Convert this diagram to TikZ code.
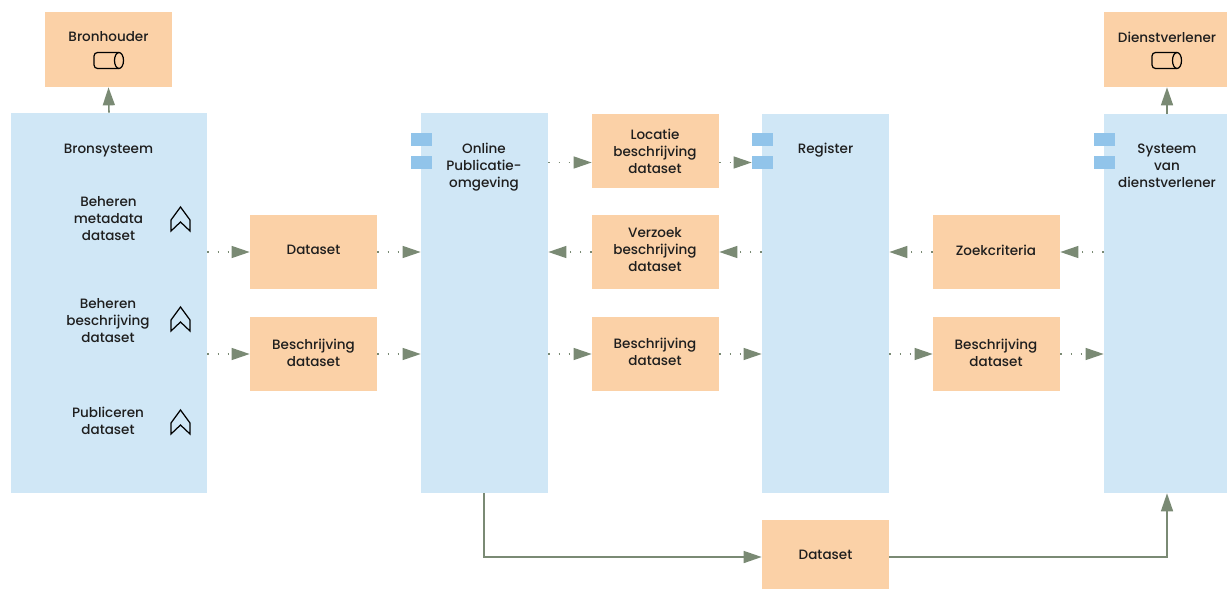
\documentclass[tikz,border=0pt]{standalone}
\usepackage{fontspec}
\setmainfont{Poppins Medium}
\usetikzlibrary{arrows.meta, positioning}
\definecolor{artefact}{HTML}{FBD1A7}
\definecolor{systeem}{HTML}{D0E7F6}
\definecolor{poort}{HTML}{91C4EA}
\definecolor{pijl}{HTML}{7A8A74}
\definecolor{tekst}{HTML}{1E1E1E}
\begin{document}
\begin{tikzpicture}[x=0.02cm, y=-0.02cm,
	artefactbox/.style={fill=artefact, minimum width=2.54cm, minimum height=1.48cm, inner sep=0pt},
	systeembox/.style={fill=systeem, minimum width=2.54cm, minimum height=7.58cm, inner sep=0pt},
	poortbox/.style={fill=poort, minimum width=0.42cm, minimum height=0.26cm, inner sep=0pt},
	tekstlabel/.style={font=\fontsize{7.7pt}{9.7pt}\selectfont, text=tekst, align=center, inner sep=0pt},
	flow/.style={draw=pijl, line width=0.7pt, dash pattern=on 0.8pt off 5pt, -{Triangle[length=0.36cm, width=0.24cm, fill=pijl]}},
	triggering/.style={draw=pijl, line width=0.9pt, -{Triangle[length=0.36cm, width=0.24cm, fill=pijl]}},
	icoon/.style={draw=black, line width=0.7pt}]
	\useasboundingbox (0,0) rectangle (1227,589);
	
	% actoren
	\node[artefactbox, minimum height=1.5cm] (bronhouder) at (108.5, 49.5) {};
	\node[artefactbox, minimum height=1.5cm, minimum width=2.46cm] (dienstverlener) at (1165.5, 49.5) {};
	\node[tekstlabel] (bronhoudertxt) at (108.5, 37) {Bronhouder};
	\node[tekstlabel] (dienstverlenertxt) at (1167, 37) {Dienstverlener};
	\draw[icoon, rounded corners=2pt] (119,52.5) -- (94,52.5) -- (94,68.5) -- (119,68.5);
	\draw[icoon] (119,60.5) ellipse (4.5 and 8);
	\draw[icoon, rounded corners=2pt] (1177,52.5) -- (1152,52.5) -- (1152,68.5) -- (1177,68.5);
	\draw[icoon] (1177,60.5) ellipse (4.5 and 8);
	
	% systemen
	\node[systeembox, minimum width=3.92cm, minimum height=7.6cm] (bronsysteem) at (109, 303) {};
	\node[systeembox, minimum height=7.6cm] (online) at (484.5, 303) {};
	\node[systeembox] (register) at (825.5, 303.5) {};
	\node[systeembox, minimum width=2.46cm] (systeemdv) at (1165.5, 303.5) {};
	\node[poortbox] (onlinep1) at (421.5, 139.5) {};
	\node[poortbox] (onlinep2) at (421.5, 162.5) {};
	\node[poortbox] (registerp1) at (762.5, 139.5) {};
	\node[poortbox] (registerp2) at (762.5, 162.5) {};
	\node[poortbox] (systeemp1) at (1104.5, 139.5) {};
	\node[poortbox] (systeemp2) at (1104.5, 162.5) {};
	\node[tekstlabel] (bronsysteemtxt) at (108.5, 151) {Bronsysteem};
	\node[tekstlabel] (metadatatxt) at (108.5, 219) {Beheren\\metadata\\dataset};
	\node[tekstlabel] (beheertxt) at (108, 321) {Beheren\\beschrijving\\dataset};
	\node[tekstlabel] (publicerentxt) at (108, 420.5) {Publiceren\\dataset};
	\node[tekstlabel] (onlinetxt) at (484, 167) {Online\\Publicatie-\\omgeving};
	\node[tekstlabel] (registertxt) at (825.5, 150) {Register};
	\node[tekstlabel] (systeemtxt) at (1167, 166) {Systeem\\van\\dienstverlener};
	\draw[icoon] (171,220) -- (180.5,207) -- (190,220) -- (190,231) -- (180.5,222) -- (171,231) -- cycle;
	\draw[icoon] (171,320) -- (180.5,307) -- (190,320) -- (190,331) -- (180.5,322) -- (171,331) -- cycle;
	\draw[icoon] (171,423) -- (180.5,410) -- (190,423) -- (190,434) -- (180.5,425) -- (171,434) -- cycle;
	
	% objecten
	\node[artefactbox] (dataset) at (313.5, 252) {};
	\node[artefactbox] (beschrijving1) at (313.5, 354) {};
	\node[artefactbox] (locatie) at (655.5, 151) {};
	\node[artefactbox] (verzoek) at (655.5, 252) {};
	\node[artefactbox] (beschrijving2) at (655.5, 354) {};
	\node[artefactbox] (zoekcriteria) at (996.5, 252) {};
	\node[artefactbox] (beschrijving3) at (996.5, 354) {};
	\node[artefactbox, minimum height=1.38cm] (dataset2) at (825.5, 554.5) {};
	\node[tekstlabel] (datasettxt) at (313.5, 250) {Dataset};
	\node[tekstlabel] (beschrijving1txt) at (313.5, 352.5) {Beschrijving\\dataset};
	\node[tekstlabel] (locatietxt) at (655, 151.5) {Locatie\\beschrijving\\dataset};
	\node[tekstlabel] (verzoektxt) at (655, 249.5) {Verzoek\\beschrijving\\dataset};
	\node[tekstlabel] (beschrijving2txt) at (655, 352) {Beschrijving\\dataset};
	\node[tekstlabel] (zoekcriteriatxt) at (996, 250) {Zoekcriteria};
	\node[tekstlabel] (beschrijving3txt) at (996, 352.5) {Beschrijving\\dataset};
	\node[tekstlabel] (dataset2txt) at (825.5, 555) {Dataset};
	
	% relaties
	\draw[triggering] (bronsysteem.north) -- (bronhouder.south);
	\draw[triggering] (systeemdv.north -| dienstverlenertxt) -- (dienstverlener.south -| dienstverlenertxt);
	\draw[flow] (bronsysteem.east |- dataset) -- (dataset.west);
	\draw[flow] (dataset.east) -- (online.west |- dataset);
	\draw[flow] (bronsysteem.east |- beschrijving1) -- (beschrijving1.west);
	\draw[flow] (beschrijving1.east) -- (online.west |- beschrijving1);
	\draw[flow] (online.east |- onlinep2) -- (locatie.west |- onlinep2);
	\draw[flow] (locatie.east |- registerp2) -- (registerp2.west);
	\draw[flow] (register.west |- verzoek) -- (verzoek.east);
	\draw[flow] (verzoek.west) -- (online.east |- verzoek);
	\draw[flow] (online.east |- beschrijving2) -- (beschrijving2.west);
	\draw[flow] (beschrijving2.east) -- (register.west |- beschrijving2);
	\draw[flow] (systeemdv.west |- zoekcriteria) -- (zoekcriteria.east);
	\draw[flow] (zoekcriteria.west) -- (register.east |- zoekcriteria);
	\draw[flow] (register.east |- beschrijving3) -- (beschrijving3.west);
	\draw[flow] (beschrijving3.east) -- (systeemdv.west |- beschrijving3);
	\draw[triggering] (onlinetxt |- online.south) |- (dataset2.west |- 0,557);
	\draw[triggering] (dataset2.east |- 0,557) -| (systeemdv.south -| dienstverlenertxt);
\end{tikzpicture}
\end{document}
